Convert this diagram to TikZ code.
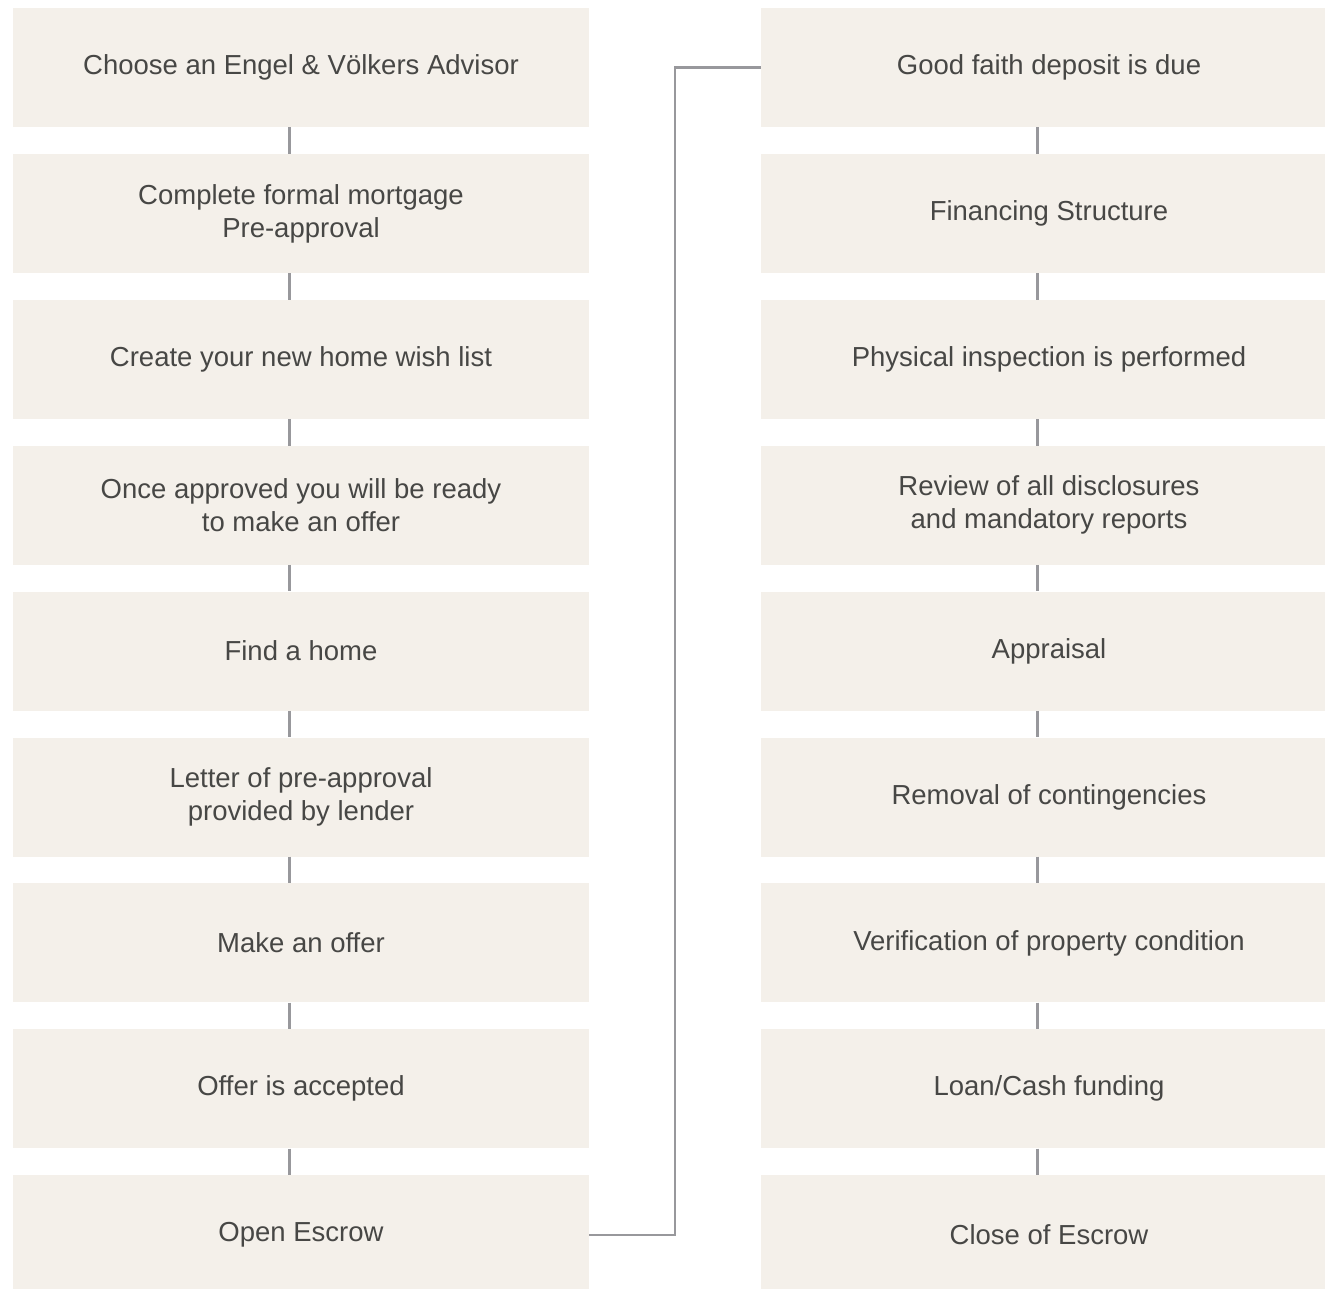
\documentclass[tikz,border=0pt]{standalone}
\usepackage{fontspec}
\setmainfont{Liberation Sans}
\usetikzlibrary{positioning}
\definecolor{Panel}{HTML}{F4F0EA}
\definecolor{Ink}{HTML}{474745}
\definecolor{Wire}{HTML}{98989C}

\begin{document}
\begin{tikzpicture}[x=1pt,y=1pt,node distance=26.5pt]
        \tikzset{
          stepbox/.style={
            fill=Panel,
            text=Ink,
            minimum width=576pt,
            minimum height=119pt,
            inner sep=0pt,
            align=center,
            font=\fontsize{27.5}{33}\selectfont
          },
          wire/.style={draw=Wire,line width=2.3pt}
        }
        \clip (0,0) rectangle (1325,-1288);
        \fill[white] (0,0) rectangle (1325,-1288);
        % buying side
        \node[stepbox] (advisor) at (301,-67.5) {Choose an Engel \& Völkers Advisor};
        \node[stepbox,below=of advisor] (preapp) {Complete formal mortgage\\Pre-approval};
        \node[stepbox,below=of preapp] (wish) {Create your new home wish list};
        \node[stepbox,below=of wish] (ready) {Once approved you will be ready\\to make an offer};
        \node[stepbox,below=of ready] (find) {Find a home};
        \node[stepbox,below=of find] (letter) {Letter of pre-approval\\provided by lender};
        \node[stepbox,below=of letter] (offer) {Make an offer};
        \node[stepbox,below=of offer] (accepted) {Offer is accepted};
        \node[stepbox,below=of accepted] (open) {Open Escrow};
        % escrow side
        \node[stepbox] (deposit) at (1049,-67.5) {Good faith deposit is due};
        \node[stepbox,below=of deposit] (financing) {Financing Structure};
        \node[stepbox,below=of financing] (inspect) {Physical inspection is performed};
        \node[stepbox,below=of inspect] (review) {Review of all disclosures\\and mandatory reports};
        \node[stepbox,below=of review] (appraisal) {Appraisal};
        \node[stepbox,below=of appraisal] (removal) {Removal of contingencies};
        \node[stepbox,below=of removal] (verify) {Verification of property condition};
        \node[stepbox,below=of verify] (funding) {Loan/Cash funding};
        \node[stepbox,below=of funding] (close) {Close of Escrow};
        % links
        \foreach \a/\b in {advisor/preapp,preapp/wish,wish/ready,ready/find,find/letter,letter/offer,offer/accepted,accepted/open,
                           deposit/financing,financing/inspect,inspect/review,review/appraisal,appraisal/removal,removal/verify,verify/funding,funding/close}
          \draw[wire] ([xshift=-11.5pt]\a.south) -- ([xshift=-11.5pt]\b.north);
        \draw[wire] (open.east) -- ++(86,0) |- (deposit.west);
      \end{tikzpicture}
\end{document}
